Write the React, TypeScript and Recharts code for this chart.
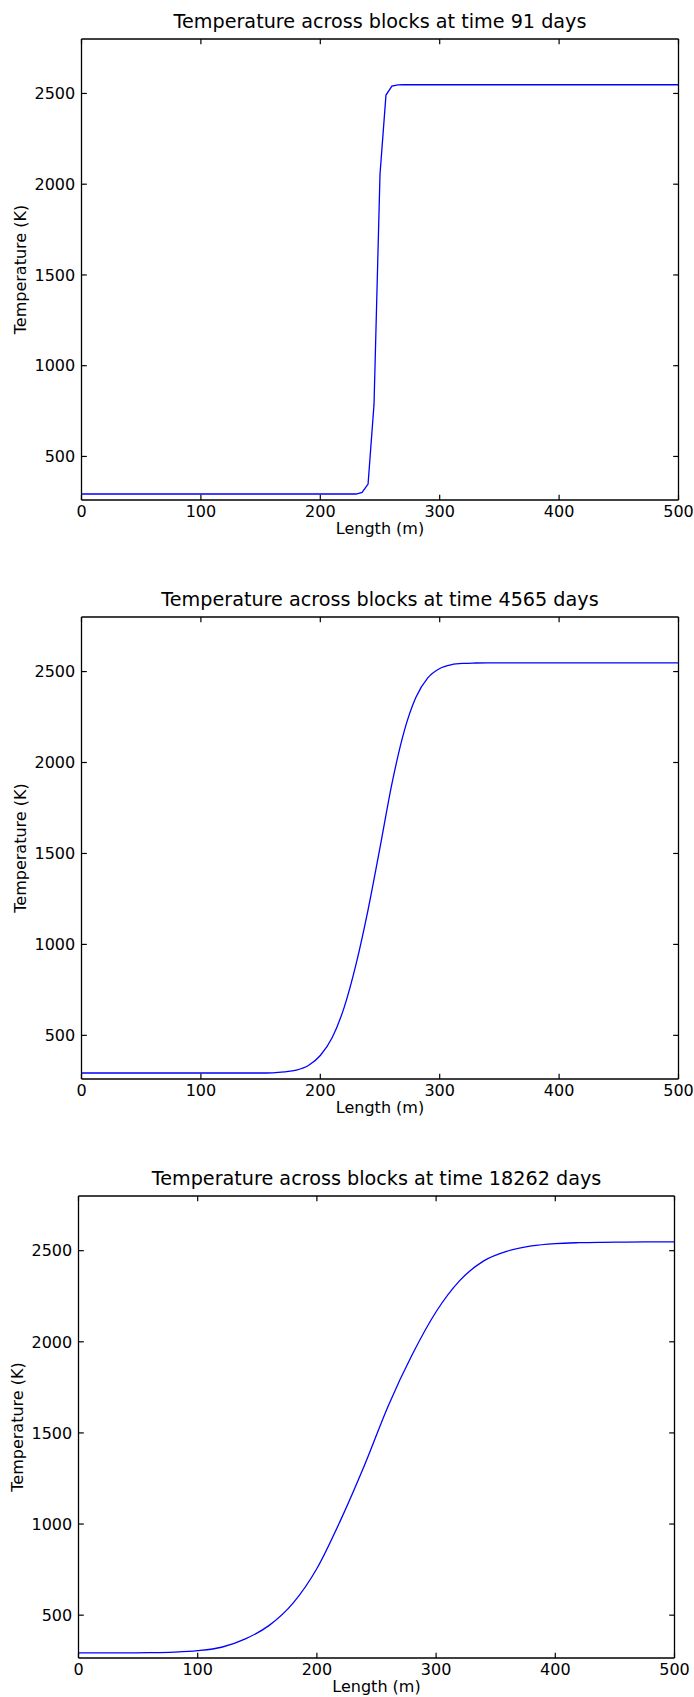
import React from "react";
import { LineChart, Line, XAxis, YAxis } from "recharts";

const lengthTicks = [0, 100, 200, 300, 400, 500];
const tempTicks = [500, 1000, 1500, 2000, 2500];

// 91 days: sharp front, block size 5 m
const len91 = [0, 50, 100, 150, 200, 225, 230, 235, 240, 245, 250, 255, 260, 265, 270, 300, 350, 400, 450, 500];
const temp91 = [293, 293, 293, 293, 293, 293, 293, 302, 348, 788, 2054, 2491, 2540, 2547, 2548, 2548, 2548, 2548, 2548, 2548];

// 4565 days
const len4565 = [0, 50, 100, 150, 160, 170, 180, 190, 200, 210, 220, 230, 240, 250, 260, 270, 280, 290, 300, 310, 320, 330, 340, 350, 400, 450, 500];
const temp4565 = [293, 293, 293, 293, 294, 299, 309, 334, 389, 488, 654, 893, 1190, 1532, 1884, 2166, 2357, 2465, 2517, 2538, 2545, 2547, 2548, 2548, 2548, 2548, 2548];

// 18262 days
const len18262 = [0, 20, 40, 60, 80, 100, 120, 140, 160, 180, 200, 220, 240, 260, 280, 300, 320, 340, 360, 380, 400, 420, 440, 460, 480, 500];
const temp18262 = [293, 293, 293, 294, 297, 305, 324, 370, 444, 566, 756, 1023, 1324, 1651, 1930, 2165, 2337, 2444, 2498, 2526, 2539, 2544, 2546, 2547, 2548, 2548];

const FONT = "DejaVu Sans, sans-serif";
const INK = "#000";
const TICK = 5.3;
const frame = { stroke: INK, strokeWidth: 1.3 };

const tickBottom = (p: any) => (
  <g>
    <line x1={p.x} y1={p.y} x2={p.x} y2={p.y - TICK} stroke={INK} strokeWidth={1.2} />
    <text x={p.x} y={p.y + 17} textAnchor="middle" fontSize={16} fontFamily={FONT} fill={INK}>
      {p.payload.value}
    </text>
  </g>
);

const tickTop = (p: any) => (
  <line x1={p.x} y1={p.y} x2={p.x} y2={p.y + TICK} stroke={INK} strokeWidth={1.2} />
);

const tickLeft = (p: any) => (
  <g>
    <line x1={p.x} y1={p.y} x2={p.x + TICK} y2={p.y} stroke={INK} strokeWidth={1.2} />
    <text x={p.x - 6.3} y={p.y + 5.8} textAnchor="end" fontSize={16} fontFamily={FONT} fill={INK}>
      {p.payload.value}
    </text>
  </g>
);

const tickRight = (p: any) => (
  <line x1={p.x} y1={p.y} x2={p.x - TICK} y2={p.y} stroke={INK} strokeWidth={1.2} />
);

const Caption = (props: any) => {
  const { px, py, text, size, vertical } = props;
  return (
    <text
      x={px}
      y={py}
      textAnchor="middle"
      fontSize={size}
      fontFamily={FONT}
      fill={INK}
      transform={vertical ? `rotate(-90 ${px} ${py})` : undefined}
    >
      {text}
    </text>
  );
};

type PanelSpec = {
  title: string;
  lengths: number[];
  temps: number[];
  curve: "linear" | "monotone";
  plotTop: number;
  plotH: number;
  left: number;
  right: number;
  yMin: number;
};

const panels: PanelSpec[] = [
  { title: "Temperature across blocks at time 91 days", lengths: len91, temps: temp91, curve: "linear", plotTop: 38.5, plotH: 461, left: 81.5, right: 678.5, yMin: 260 },
  { title: "Temperature across blocks at time 4565 days", lengths: len4565, temps: temp4565, curve: "monotone", plotTop: 616.5, plotH: 462, left: 81.5, right: 678.5, yMin: 260 },
  { title: "Temperature across blocks at time 18262 days", lengths: len18262, temps: temp18262, curve: "monotone", plotTop: 1195.5, plotH: 462, left: 78.5, right: 674.5, yMin: 265 },
];

const W = 694;
const PAD = 40;

function Panel({ spec }: { spec: PanelSpec }) {
  const data = spec.lengths.map((length, i) => ({ length, temp: spec.temps[i] }));
  const H = PAD + spec.plotH + 40;
  const cx = (spec.left + spec.right) / 2;
  const bottom = PAD + spec.plotH;
  const yDomain = [spec.yMin, 2800];
  return (
    <div style={{ position: "absolute", left: 0, top: spec.plotTop - PAD }}>
      <LineChart
        width={W}
        height={H}
        data={data}
        margin={{ top: PAD - 1, right: W - spec.right - 1, bottom: 0, left: 0 }}
      >
        <XAxis
          xAxisId="b"
          dataKey="length"
          type="number"
          domain={[0, 500]}
          ticks={lengthTicks}
          interval={0}
          height={40}
          tickSize={0}
          tickMargin={0}
          tickLine={false}
          axisLine={frame}
          tick={tickBottom}
          label={<Caption px={cx} py={bottom + 34} text="Length (m)" size={16} />}
        />
        <XAxis
          xAxisId="t"
          orientation="top"
          dataKey="length"
          type="number"
          domain={[0, 500]}
          ticks={lengthTicks}
          interval={0}
          height={1}
          tickSize={0}
          tickMargin={0}
          tickLine={false}
          axisLine={frame}
          tick={tickTop}
          label={<Caption px={cx} py={PAD - 11.5} text={spec.title} size={19.2} />}
        />
        <YAxis
          yAxisId="l"
          type="number"
          domain={yDomain}
          ticks={tempTicks}
          interval={0}
          width={spec.left}
          tickSize={0}
          tickMargin={0}
          tickLine={false}
          axisLine={frame}
          tick={tickLeft}
          label={<Caption px={spec.left - 55.6} py={PAD + spec.plotH / 2} text="Temperature (K)" size={16} vertical />}
        />
        <YAxis
          yAxisId="r"
          orientation="right"
          type="number"
          domain={yDomain}
          ticks={tempTicks}
          interval={0}
          width={1}
          tickSize={0}
          tickMargin={0}
          tickLine={false}
          axisLine={frame}
          tick={tickRight}
        />
        {/* invisible copy so the top/right frame axes have a series bound to them */}
        <Line
          xAxisId="t"
          yAxisId="r"
          dataKey="temp"
          type={spec.curve}
          stroke="#0000ff"
          strokeOpacity={0}
          dot={false}
          activeDot={false}
          isAnimationActive={false}
        />
        <Line
          xAxisId="b"
          yAxisId="l"
          dataKey="temp"
          type={spec.curve}
          stroke="#0000ff"
          strokeWidth={1.3}
          dot={false}
          activeDot={false}
          isAnimationActive={false}
        />
      </LineChart>
    </div>
  );
}

export default function App() {
  return (
    <div
      style={{
        position: "absolute",
        left: 0,
        top: 0,
        width: W,
        height: 1697,
        overflow: "hidden",
        background: "#fff",
      }}
    >
      {panels.map((spec) => (
        <Panel key={spec.title} spec={spec} />
      ))}
    </div>
  );
}
